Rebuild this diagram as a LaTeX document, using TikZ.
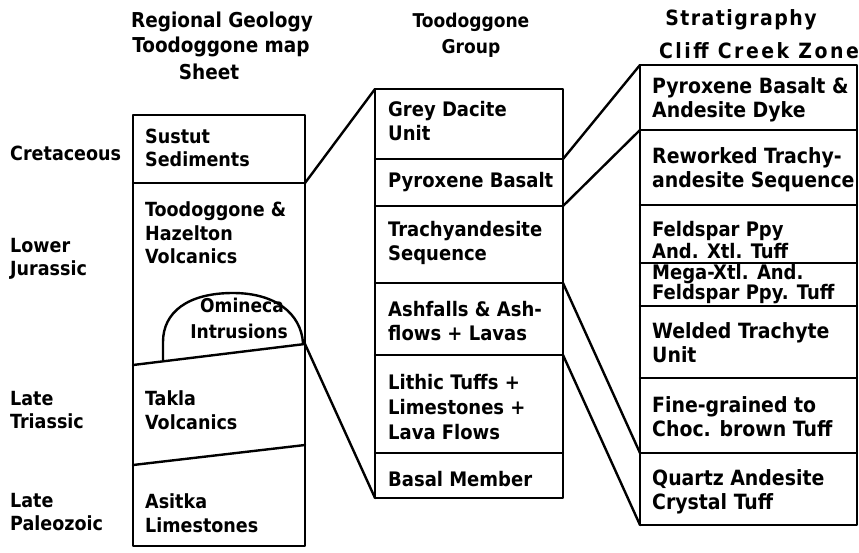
\documentclass[tikz,border=0pt]{standalone}
\usepackage{fontspec}
\setmainfont{DejaVu Sans Condensed}
\usepackage{tikz}
\usetikzlibrary{calc}

\tikzset{
	rim/.style={line width=2.4pt, line join=round, line cap=round},
	tie/.style={line width=2.4pt, line cap=round},
	unit/.style={anchor=west, align=left, inner sep=0pt, font=\bfseries\fontsize{19.5}{23.5}\selectfont},
	grp/.style={unit, font=\bfseries\fontsize{20}{24}\selectfont},
	zone/.style={unit, font=\bfseries\fontsize{21}{24}\selectfont},
	head/.style={align=center, inner sep=0pt, font=\bfseries\fontsize{20.5}{25}\selectfont},
}

\begin{document}
\begin{tikzpicture}[x=1pt,y=-1pt]
			\useasboundingbox (0,0) rectangle (859,552);
			
			\node[head] (h-geo1) at (222,22) {Regional Geology};
			\node[head] (h-geo2) at (221,47) {Toodoggone map};
			\node[head] (h-geo3) at (209,72) {Sheet};
			\node[head, font=\bfseries\fontsize{19}{26}\selectfont] (h-grp) at (471,35) {Toodoggone\\Group};
			\node[head, font=\bfseries\fontsize{21}{25}\selectfont\addfontfeature{LetterSpace=7}] (h-str1) at (741,20) {Stratigraphy};
			\node[head, font=\bfseries\fontsize{21}{25}\selectfont\addfontfeature{LetterSpace=12}] (h-str2) at (759,51) {Cliff Creek Zone};
			
			\node[unit] (age-cret) at (10,153) {Cretaceous};
			\node[unit] (age-jur) at (10,259) {Lower\\Jurassic};
			\node[unit] (age-tri) at (10,410) {Late\\Triassic};
			\node[unit] (age-pal) at (10,512) {Late\\Paleozoic};
			
			\coordinate (geo-nw) at (133,115);
			\coordinate (geo-se) at (305,546);
			\coordinate (geo-a-w) at (133,183);
			\coordinate (geo-a) at (305,183);
			\coordinate (geo-b-w) at (133,365);
			\coordinate (geo-b) at (305,344);
			\coordinate (geo-c-w) at (133,465);
			\coordinate (geo-c) at (305,445);
			
			\draw[rim] (geo-nw) rectangle (geo-se);
			\draw[rim] (geo-a-w) -- (geo-a);
			\draw[rim] (geo-b-w) -- (geo-b);
			\draw[rim] (geo-c-w) -- (geo-c);
			\draw[rim] (163,361) -- (163,342) .. controls (163,312) and (188,293) .. (233,293)
				.. controls (276,293) and (301,314) .. (303,343);
			
			\node[head, font=\bfseries\fontsize{19}{26}\selectfont] (omineca) at (239,318) {\hspace*{6pt}Omineca\\Intrusions};
			\node[unit] (sustut) at (145,148) {Sustut\\Sediments};
			\node[unit] (hazelton) at (145,233) {Toodoggone \&\\Hazelton\\Volcanics};
			\node[unit] (takla) at (145,410) {Takla\\Volcanics};
			\node[unit] (asitka) at (145,513) {Asitka\\Limestones};
			
			\coordinate (grp-nw) at (375,89);
			\coordinate (grp-sw) at (375,498);
			\coordinate (grp-se) at (563,498);
			\draw[rim] (grp-nw) rectangle (grp-se);
			\foreach \y [count=\k] in {159,206,283,355,453}{
				\draw[rim] (375,\y) coordinate (grp-w\k) -- (563,\y) coordinate (grp-e\k);
			}
			
			\node[grp] (dacite) at (388,121) {Grey Dacite\\Unit};
			\node[grp] (basalt) at (388,182) {Pyroxene Basalt};
			\node[grp] (trachy) at (388,243) {Trachyandesite\\Sequence};
			\node[grp] (ashfall) at (388,321) {Ashfalls \& Ash-\\flows + Lavas};
			\node[grp, font=\bfseries\fontsize{20}{25}\selectfont] (lithic) at (388,407) {Lithic Tuffs +\\Limestones +\\Lava Flows};
			\node[grp] (basal) at (388,479) {Basal Member};
			
			\coordinate (str-nw) at (640,65);
			\coordinate (str-sw) at (640,525);
			\coordinate (str-se) at (857,525);
			\draw[rim] (str-nw) rectangle (str-se);
			\foreach \y [count=\k] in {130,205,263,306,378,453}{
				\draw[rim] (640,\y) coordinate (str-w\k) -- (857,\y);
			}
			
			\node[zone] (dyke) at (652,100) {Pyroxene Basalt \&\\Andesite Dyke};
			\node[zone] (rework) at (652,170) {Reworked Trachy-\\andesite Sequence};
			\node[zone, font=\bfseries\fontsize{20}{22}\selectfont] (xtl) at (652,240) {Feldspar Ppy\\And. Xtl. Tuff};
			\node[zone, font=\bfseries\fontsize{20}{20.5}\selectfont] (mega) at (652,284) {Mega-Xtl. And.\\Feldspar Ppy. Tuff};
			\node[zone] (welded) at (652,343) {Welded Trachyte\\Unit};
			\node[zone] (choc) at (652,417) {Fine-grained to\\Choc. brown Tuff};
			\node[zone] (quartz) at (652,492) {Quartz Andesite\\Crystal Tuff};
			
			\draw[tie] (geo-a) -- (grp-nw);
			\draw[tie] (geo-b) -- (grp-sw);
			\draw[tie] (grp-e1) -- (str-nw);
			\draw[tie] (grp-e2) -- (str-w1);
			\draw[tie] (grp-e3) -- (str-w6);
			\draw[tie] (grp-e4) -- (str-sw);
		\end{tikzpicture}
\end{document}
